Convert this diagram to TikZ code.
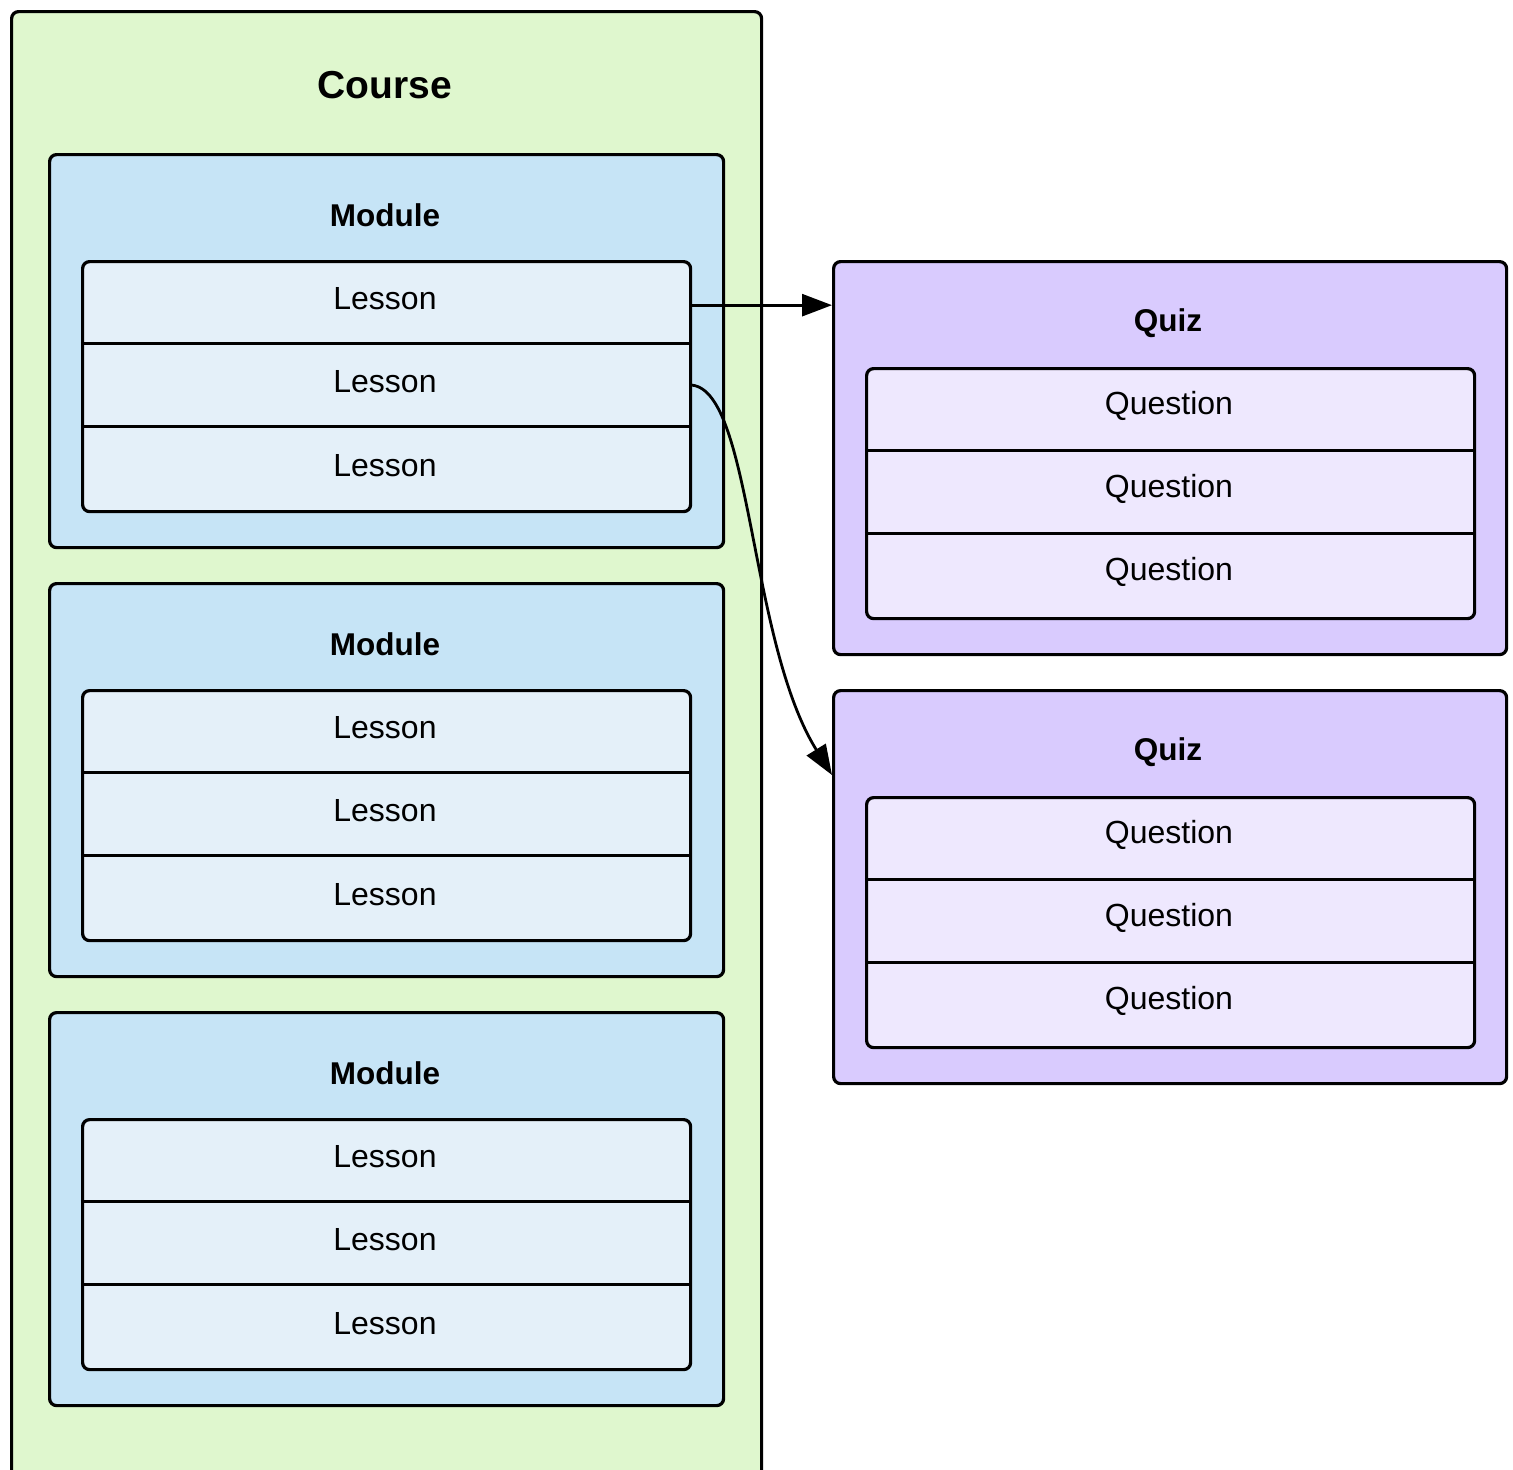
\documentclass[tikz,border=0pt]{standalone}
\usepackage{fontspec}
\setmainfont{Liberation Sans}
\usetikzlibrary{arrows.meta,calc}
\definecolor{coursefill}{HTML}{DFF7CE}
\definecolor{modulefill}{HTML}{C6E4F6}
\definecolor{lessonfill}{HTML}{E4F0F9}
\definecolor{quizfill}{HTML}{D9CBFE}
\definecolor{questionfill}{HTML}{EEE8FE}
\tikzset{
  box/.style={draw=black, line width=3.2pt, rounded corners=7pt, inner sep=0pt, anchor=north west},
  coursebox/.style={box, fill=coursefill, minimum width=750pt, minimum height=1480pt},
  modulebox/.style={box, fill=modulefill, minimum width=674pt, minimum height=393pt},
  quizbox/.style={box, fill=quizfill, minimum width=673pt, minimum height=393pt},
  lessonlist/.style={box, fill=lessonfill, minimum width=608pt, minimum height=250pt},
  questionlist/.style={box, fill=questionfill, minimum width=608pt, minimum height=250pt},
  row/.style={inner sep=0pt, minimum width=608pt, minimum height=83.33pt},
  rowtext/.style={inner sep=0pt, font=\fontsize{32}{36}\selectfont},
  title/.style={inner sep=0pt, font=\fontsize{31.5}{36}\selectfont\bfseries},
  bigtitle/.style={inner sep=0pt, font=\fontsize{39}{44}\selectfont\bfseries},
  sep/.style={draw=black, line width=3.2pt},
  link/.style={draw=black, line width=2.8pt, -{Triangle[length=30pt,width=22pt]}}
}
\begin{document}
\begin{tikzpicture}[x=1pt,y=-1pt]
\useasboundingbox (0,0) rectangle (1513,1470);
\node[coursebox] (course) at (10,10) {};
\node[bigtitle] (coursetitle) at (385,85) {Course};
\foreach \i/\oy in {1/0,2/429,3/858} {
  \node[modulebox] (m\i) at (48,153+\oy) {};
  \node[title] (mt\i) at (385,215+\oy) {Module};
  \node[lessonlist] (ml\i) at (81,260+\oy) {};
  \foreach \j in {1,2,3} {
    \node[row] (l\i\j) at (385,218.33+\oy+83.33*\j) {};
    \node[rowtext] (lt\i\j) at ($(l\i\j.center)+(0,-3)$) {Lesson};
  }
  \draw[sep] (l\i1.south west) -- (l\i1.south east);
  \draw[sep] (l\i2.south west) -- (l\i2.south east);
}
\foreach \i/\oy in {1/0,2/429} {
  \node[quizbox] (q\i) at (832,260+\oy) {};
  \node[title] (qt\i) at (1168,323+\oy) {Quiz};
  \node[questionlist] (ql\i) at (865,367+\oy) {};
  \foreach \j in {1,2,3} {
    \node[row] (qq\i\j) at (1169,325.33+\oy+83.33*\j) {};
    \node[rowtext] (qt\i\j) at ($(qq\i\j.center)+(0,-3)$) {Question};
  }
  \draw[sep] (qq\i1.south west) -- (qq\i1.south east);
  \draw[sep] (qq\i2.south west) -- (qq\i2.south east);
}
\coordinate (a1) at ($(l11.east)+(0,3.5)$);
\coordinate (e2) at ($(q2.north west)+(0,86)$);
\draw[link] (a1) -- (q1.west |- a1);
\draw[link] (l12.east) .. controls (752,384) and (748,640) .. (e2);
\end{tikzpicture}
\end{document}
